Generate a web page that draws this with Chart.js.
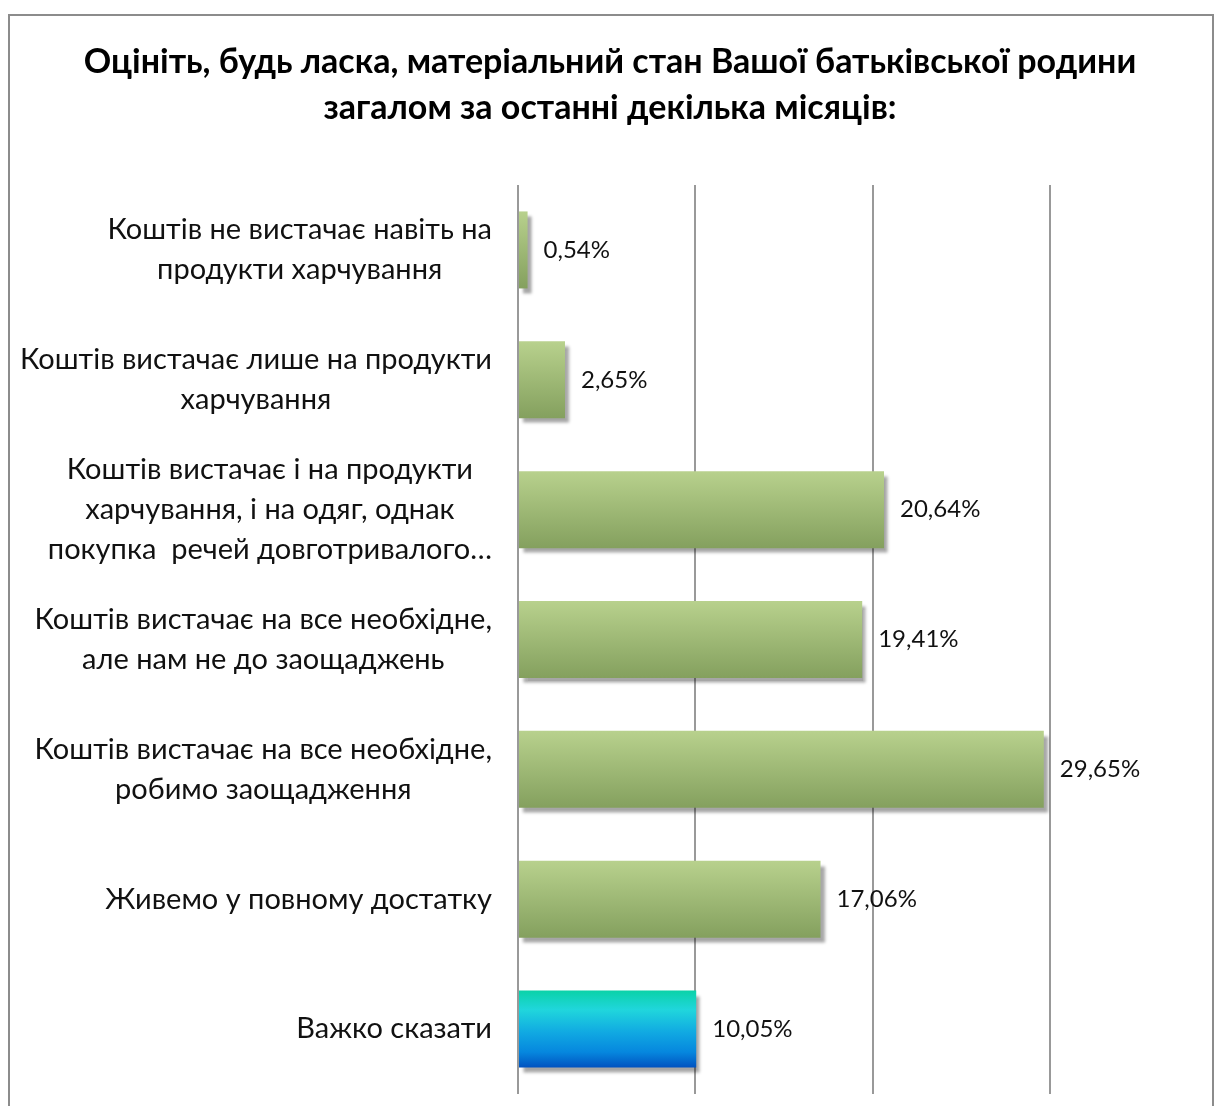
<!DOCTYPE html>
<html>
<head>
<meta charset="utf-8">
<script src="https://cdn.jsdelivr.net/npm/chart.js@4.4.0/dist/chart.umd.min.js"></script>
<style>
  html, body { margin: 0; padding: 0; background: #fff; }
  #wrap { position: relative; width: 1215px; height: 1106px; }
</style>
</head>
<body>
<div id="wrap"><canvas id="myChart"></canvas></div>
<script>
// categories and values
const categories = [
  ['Коштів не вистачає навіть на', 'продукти харчування'],
  ['Коштів вистачає лише на продукти', 'харчування'],
  ['Коштів вистачає і на продукти', 'харчування, і на одяг, однак', 'покупка  речей довготривалого…'],
  ['Коштів вистачає на все необхідне,', 'але нам не до заощаджень'],
  ['Коштів вистачає на все необхідне,', 'робимо заощадження'],
  ['Живемо у повному достатку'],
  ['Важко сказати']
];
const values = [0.54, 2.65, 20.64, 19.41, 29.65, 17.06, 10.05];
const titleLines = [
  'Оцініть, будь ласка, матеріальний стан Вашої батьківської родини',
  'загалом за останні декілька місяців:'
];

const FONT = 'Lato, "Open Sans", sans-serif';
const BAR_PCT = 0.593;

function barFill(context) {
  const chart = context.chart;
  const y = chart.scales.y;
  if (!chart.chartArea || !y) return '#9fba74';
  const i = context.dataIndex;
  const center = y.getPixelForValue(i);
  const half = (y.height / categories.length) * BAR_PCT / 2;
  const g = chart.ctx.createLinearGradient(0, center - half, 0, center + half);
  if (i === values.length - 1) {
    g.addColorStop(0, '#0bd2a8');
    g.addColorStop(0.25, '#20d6dc');
    g.addColorStop(0.55, '#10a8e2');
    g.addColorStop(0.8, '#0687de');
    g.addColorStop(1, '#0052c0');
  } else {
    g.addColorStop(0, '#b8d18d');
    g.addColorStop(1, '#84a05e');
  }
  return g;
}

const chartDecor = {
  id: 'chartDecor',
  beforeDraw(chart) {
    const ctx = chart.ctx;
    ctx.save();
    ctx.strokeStyle = '#8c8c8c';
    ctx.lineWidth = 2;
    ctx.strokeRect(9, 15, 1204, 1200);
    // title, centred on the whole frame
    ctx.fillStyle = '#000';
    ctx.font = 'bold 34px ' + FONT;
    ctx.textAlign = 'center';
    ctx.textBaseline = 'middle';
    titleLines.forEach((t, k) => ctx.fillText(t, 610, 62 + k * 46));
    ctx.restore();
  },
  beforeDatasetsDraw(chart) {
    const ctx = chart.ctx;
    ctx.save();
    ctx.shadowColor = 'rgba(0,0,0,0.35)';
    ctx.shadowOffsetX = 4;
    ctx.shadowOffsetY = 5;
    ctx.shadowBlur = 3;
  },
  afterDatasetsDraw(chart) {
    const ctx = chart.ctx;
    ctx.restore();
    const y = chart.scales.y;
    const meta = chart.getDatasetMeta(0);

    // value labels
    ctx.save();
    ctx.fillStyle = '#111';
    ctx.font = '24px ' + FONT;
    ctx.textAlign = 'left';
    ctx.textBaseline = 'middle';
    meta.data.forEach((bar, i) => {
      const txt = values[i].toFixed(2).replace('.', ',') + '%';
      ctx.fillText(txt, bar.x + 16, bar.y);
    });
    ctx.restore();

    // category labels: lines centred, block right-aligned against the axis
    ctx.save();
    ctx.fillStyle = '#111';
    ctx.font = '29px ' + FONT;
    ctx.textAlign = 'center';
    ctx.textBaseline = 'middle';
    const right = chart.chartArea.left - 26;
    const lh = 40;
    categories.forEach((lines, i) => {
      const cy = y.getPixelForValue(i);
      const w = Math.max(...lines.map(l => ctx.measureText(l).width));
      const cx = right - w / 2;
      lines.forEach((l, k) => {
        ctx.fillText(l, cx, cy + (k - (lines.length - 1) / 2) * lh);
      });
    });
    ctx.restore();
  }
};

new Chart(document.getElementById('myChart'), {
  type: 'bar',
  data: {
    labels: categories,
    datasets: [{
      data: values,
      backgroundColor: barFill,
      borderWidth: 0,
      barPercentage: BAR_PCT,
      categoryPercentage: 1
    }]
  },
  options: {
    indexAxis: 'y',
    responsive: true,
    maintainAspectRatio: false,
    animation: false,
    layout: { padding: { left: 8, right: 165, top: 185, bottom: 12 } },
    plugins: {
      legend: { display: false },
      tooltip: { enabled: false },
      title: { display: false }
    },
    scales: {
      x: {
        min: 0,
        max: 30,
        ticks: { display: false, stepSize: 10 },
        grid: { color: '#999', lineWidth: 2, drawTicks: false },
        border: { display: false },
        afterFit(s) { s.height = 0; }
      },
      y: {
        ticks: { display: false },
        grid: { display: false },
        border: { display: false },
        afterFit(s) { s.width = 510; }
      }
    }
  },
  plugins: [chartDecor]
});
</script>
</body>
</html>
